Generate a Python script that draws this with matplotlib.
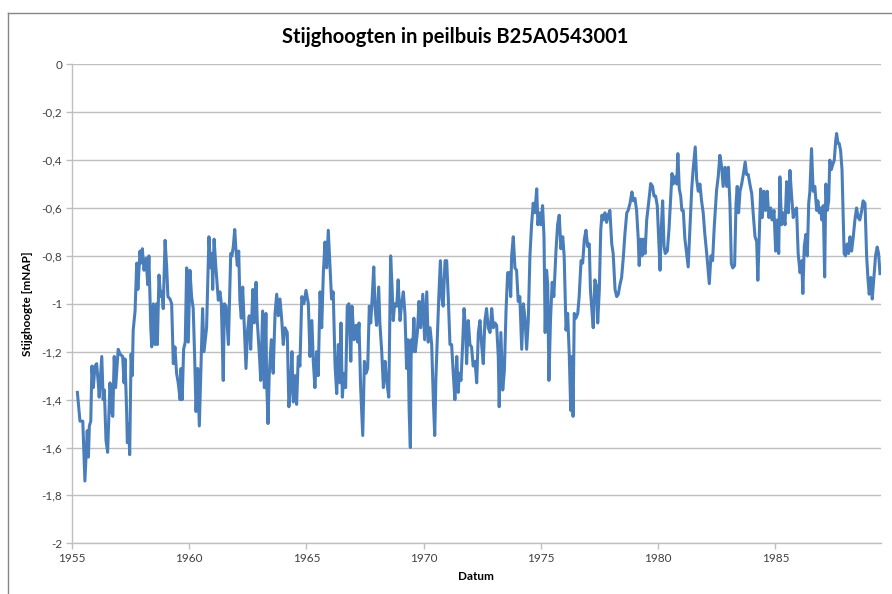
import matplotlib
matplotlib.use("Agg")
import matplotlib.pyplot as plt
from matplotlib.lines import Line2D
from matplotlib.ticker import FixedLocator, FuncFormatter

plt.rcParams['font.family'] = ['Lato', 'DejaVu Sans']

# ---- data: groundwater head (m NAP) vs. decimal year ----
years_a = [1955.23,1955.34,1955.46,1955.55,1955.65,1955.70,1955.74,1955.80,1955.85,1955.91,
           1955.98,1956.05,1956.12,1956.16,1956.27,1956.33,1956.38,1956.45,1956.52,1956.62,
           1956.69,1956.74,1956.80,1956.86,1956.97,1957.05,1957.16,1957.22,1957.26,1957.33,
           1957.36,1957.42,1957.46,1957.52,1957.57,1957.61,1957.69,1957.76,1957.81,1957.90,
           1957.94,1958.00,1958.07,1958.16,1958.23,1958.28,1958.36,1958.40,1958.47,1958.54,
           1958.61,1958.64,1958.71,1958.78,1958.84,1958.89,1958.97,1959.04,1959.09,1959.18,
           1959.25,1959.32,1959.39,1959.46,1959.53,1959.61,1959.65,1959.70,1959.76,1959.83,
           1959.89,1959.96,1960.03,1960.10,1960.17,1960.23,1960.29,1960.36,1960.43,1960.49]
level_a = [-1.37,-1.49,-1.49,-1.74,-1.53,-1.64,-1.51,-1.49,-1.26,-1.35,
           -1.26,-1.25,-1.33,-1.39,-1.22,-1.40,-1.36,-1.57,-1.62,-1.33,
           -1.45,-1.47,-1.22,-1.35,-1.19,-1.21,-1.22,-1.33,-1.23,-1.45,
           -1.58,-1.50,-1.63,-1.21,-1.30,-1.11,-1.03,-0.83,-0.94,-0.78,
           -0.83,-0.77,-0.86,-0.81,-0.92,-0.80,-1.10,-1.18,-1.00,-1.17,
           -1.00,-1.17,-0.88,-0.97,-0.95,-1.02,-0.735,-0.85,-0.97,-0.98,
           -1.00,-1.25,-1.18,-1.29,-1.33,-1.40,-1.27,-1.40,-1.19,-1.16,
           -0.85,-1.16,-0.86,-0.97,-1.02,-1.22,-1.45,-1.27,-1.51,-1.30]

years_b = [1960.57,1960.63,1960.74,1960.84,1960.91,1960.97,1961.00,1961.06,1961.13,1961.24,
           1961.31,1961.37,1961.45,1961.50,1961.57,1961.67,1961.77,1961.82,1961.88,1961.94,
           1961.99,1962.05,1962.11,1962.16,1962.22,1962.28,1962.33,1962.42,1962.49,1962.56,
           1962.62,1962.71,1962.77,1962.85,1962.90,1962.99,1963.05,1963.13,1963.20,1963.27,
           1963.30,1963.36,1963.41,1963.50,1963.58,1963.66,1963.73,1963.80,1963.87,1963.94,
           1964.01,1964.08,1964.18,1964.25,1964.33,1964.38,1964.44,1964.51,1964.58,1964.65,
           1964.72,1964.80,1964.89,1964.98,1965.08,1965.15,1965.23,1965.29,1965.36,1965.43,
           1965.50,1965.58,1965.65,1965.72,1965.79,1965.86,1965.93,1966.00,1966.07,1966.14,
           1966.22,1966.29]
level_b = [-1.02,-1.20,-1.10,-0.72,-0.85,-0.79,-0.94,-0.73,-0.84,-0.985,
           -0.95,-1.00,-1.32,-1.00,-1.01,-1.17,-0.79,-0.80,-0.76,-0.69,
           -0.77,-0.84,-0.78,-0.985,-1.06,-0.93,-1.05,-1.27,-1.11,-1.05,
           -1.19,-0.94,-1.08,-0.91,-1.07,-1.21,-1.32,-1.03,-1.35,-1.04,
           -1.32,-1.50,-1.30,-1.15,-1.29,-1.04,-0.96,-1.05,-0.98,-1.06,
           -1.17,-1.10,-1.12,-1.43,-1.33,-1.20,-1.41,-1.30,-1.42,-1.22,
           -1.26,-0.97,-1.00,-0.944,-1.00,-1.22,-1.07,-1.24,-1.35,-1.20,
           -1.30,-0.95,-1.10,-0.87,-0.742,-0.85,-0.693,-0.84,-0.98,-0.95,
           -1.26,-1.375]

years_c = [1966.36,1966.43,1966.47,1966.53,1966.60,1966.67,1966.74,1966.81,1966.89,1966.94,
           1967.03,1967.11,1967.18,1967.24,1967.31,1967.40,1967.47,1967.54,1967.61,1967.68,
           1967.74,1967.81,1967.87,1967.92,1967.99,1968.08,1968.13,1968.21,1968.28,1968.35,
           1968.42,1968.51,1968.59,1968.65,1968.70,1968.76,1968.85,1968.91,1968.99,1969.06,
           1969.13,1969.20,1969.27,1969.33,1969.38,1969.43,1969.47,1969.53,1969.58,1969.64,
           1969.73,1969.80,1969.87,1969.96,1970.04,1970.13,1970.19,1970.27,1970.34,1970.41,
           1970.47,1970.52,1970.58,1970.64,1970.71,1970.78,1970.83,1970.91,1970.98,1971.05,
           1971.12,1971.19,1971.26,1971.33,1971.41,1971.47]
level_c = [-1.17,-1.33,-1.08,-1.39,-1.29,-1.35,-1.01,-1.00,-1.24,-1.01,
           -1.15,-1.09,-1.16,-1.08,-1.35,-1.55,-1.24,-1.29,-1.27,-1.01,
           -1.08,-0.96,-0.846,-1.01,-1.09,-0.93,-1.08,-1.20,-1.35,-1.24,
           -1.32,-1.39,-0.80,-0.93,-1.07,-1.00,-1.01,-0.90,-1.07,-1.00,
           -0.95,-1.04,-1.27,-1.15,-1.45,-1.60,-1.15,-1.20,-1.06,-1.20,
           -1.12,-0.99,-1.10,-0.96,-1.15,-0.95,-1.16,-1.10,-1.17,-1.40,
           -1.55,-1.31,-1.15,-0.98,-0.82,-0.98,-1.01,-0.82,-0.82,-0.98,
           -1.17,-1.17,-1.29,-1.40,-1.22,-1.37]

years_d = [1971.52,1971.59,1971.66,1971.72,1971.79,1971.83,1971.90,1971.97,1972.04,1972.11,
           1972.19,1972.26,1972.33,1972.40,1972.47,1972.54,1972.61,1972.68,1972.75,1972.83,
           1972.90,1972.97,1973.04,1973.11,1973.18,1973.22,1973.29,1973.37,1973.44,1973.51,
           1973.58,1973.65,1973.71,1973.75,1973.82,1973.89,1973.96,1974.03,1974.10,1974.18,
           1974.25,1974.32,1974.39,1974.46,1974.53,1974.60,1974.67,1974.74,1974.82,1974.87,
           1974.93,1974.99,1975.07,1975.13,1975.18,1975.24,1975.29,1975.34,1975.41,1975.48,
           1975.55,1975.64,1975.71,1975.78,1975.85,1975.93,1975.99,1976.07,1976.14,1976.21,
           1976.27,1976.32,1976.37,1976.42,1976.49,1976.57,1976.63,1976.71,1976.78,1976.85,
           1976.92,1976.99,1977.06]
level_d = [-1.29,-1.32,-1.17,-1.02,-1.11,-1.25,-1.07,-1.17,-1.18,-1.26,
           -1.24,-1.33,-1.12,-1.07,-1.17,-1.25,-1.07,-1.02,-1.10,-1.12,
           -1.02,-1.10,-1.08,-1.09,-1.22,-1.43,-1.12,-1.36,-1.28,-1.03,
           -0.87,-0.87,-0.97,-0.80,-0.72,-0.85,-0.86,-0.99,-0.97,-1.19,
           -1.00,-1.06,-1.19,-1.07,-0.80,-0.67,-0.58,-0.62,-0.52,-0.67,
           -0.62,-0.67,-0.59,-0.72,-1.12,-0.86,-0.92,-1.32,-1.06,-0.91,
           -0.97,-0.78,-0.67,-0.63,-0.77,-0.72,-0.80,-1.11,-1.04,-1.22,
           -1.445,-1.22,-1.47,-1.04,-1.06,-1.04,-0.97,-0.82,-0.83,-0.73,
           -0.693,-0.76,-0.75]

years_e = [1977.11,1977.16,1977.23,1977.30,1977.38,1977.42,1977.49,1977.55,1977.60,1977.66,
           1977.73,1977.80,1977.87,1977.94,1978.02,1978.08,1978.16,1978.23,1978.30,1978.37,
           1978.44,1978.51,1978.58,1978.66,1978.72,1978.80,1978.88,1978.94,1979.01,1979.08,
           1979.15,1979.19,1979.25,1979.31,1979.36,1979.44,1979.51,1979.58,1979.68,1979.76,
           1979.82,1979.89,1979.96,1980.03,1980.08,1980.13,1980.19,1980.25,1980.30,1980.39,
           1980.46,1980.53,1980.59,1980.64,1980.71,1980.79,1980.84,1980.90,1980.96,1981.01,
           1981.07,1981.14,1981.21,1981.28,1981.35,1981.43,1981.49,1981.58,1981.64,1981.71,
           1981.78,1981.85,1981.92,1981.99,1982.07,1982.13,1982.18,1982.25,1982.32,1982.39]
level_e = [-0.94,-1.01,-1.10,-0.90,-0.93,-1.08,-0.94,-0.693,-0.63,-0.65,
           -0.62,-0.66,-0.63,-0.61,-0.75,-0.79,-0.94,-0.97,-0.96,-0.92,
           -0.89,-0.81,-0.71,-0.62,-0.61,-0.58,-0.533,-0.57,-0.56,-0.61,
           -0.73,-0.84,-0.73,-0.80,-0.73,-0.79,-0.65,-0.59,-0.498,-0.51,
           -0.55,-0.55,-0.59,-0.75,-0.86,-0.69,-0.57,-0.76,-0.79,-0.78,
           -0.69,-0.56,-0.456,-0.50,-0.47,-0.50,-0.373,-0.52,-0.55,-0.61,
           -0.61,-0.73,-0.79,-0.846,-0.69,-0.52,-0.44,-0.345,-0.48,-0.53,
           -0.50,-0.57,-0.62,-0.71,-0.79,-0.86,-0.916,-0.80,-0.82,-0.68]

years_f = [1982.49,1982.56,1982.63,1982.71,1982.77,1982.85,1982.92,1982.99,1983.06,1983.12,
           1983.18,1983.26,1983.32,1983.37,1983.43,1983.49,1983.56,1983.63,1983.71,1983.77,
           1983.84,1983.91,1983.99,1984.05,1984.13,1984.20,1984.25,1984.31,1984.37,1984.44,
           1984.51,1984.58,1984.65,1984.72,1984.80,1984.86,1984.94,1985.01,1985.08,1985.14,
           1985.19,1985.26,1985.33,1985.41,1985.48,1985.55,1985.62,1985.69,1985.76,1985.83,
           1985.90,1985.97,1986.05,1986.12,1986.17,1986.23,1986.30,1986.36,1986.42,1986.47,
           1986.54,1986.61,1986.68,1986.76,1986.81,1986.87,1986.93,1986.98,1987.04,1987.10,
           1987.15,1987.21,1987.27,1987.32,1987.38,1987.44,1987.51,1987.57,1987.61,1987.67,
           1987.72,1987.78,1987.84,1987.89,1987.93,1987.99,1988.06,1988.12,1988.18,1988.25,
           1988.32,1988.39,1988.46,1988.53,1988.60,1988.68,1988.74,1988.82,1988.89,1988.95,
           1989.00,1989.07,1989.13,1989.20,1989.27,1989.34,1989.40,1989.46]
level_f = [-0.526,-0.47,-0.38,-0.43,-0.51,-0.43,-0.51,-0.43,-0.58,-0.832,
           -0.85,-0.84,-0.58,-0.51,-0.62,-0.53,-0.50,-0.46,-0.408,-0.46,
           -0.46,-0.50,-0.54,-0.62,-0.72,-0.74,-0.902,-0.72,-0.52,-0.64,
           -0.53,-0.61,-0.53,-0.64,-0.60,-0.65,-0.61,-0.78,-0.65,-0.79,
           -0.47,-0.67,-0.62,-0.67,-0.49,-0.62,-0.443,-0.55,-0.64,-0.61,
           -0.60,-0.79,-0.87,-0.82,-0.957,-0.76,-0.71,-0.80,-0.58,-0.53,
           -0.352,-0.53,-0.51,-0.61,-0.57,-0.62,-0.60,-0.65,-0.59,-0.888,
           -0.50,-0.61,-0.57,-0.40,-0.44,-0.42,-0.40,-0.32,-0.289,-0.33,
           -0.33,-0.36,-0.44,-0.64,-0.79,-0.80,-0.75,-0.79,-0.72,-0.78,
           -0.72,-0.65,-0.60,-0.64,-0.65,-0.61,-0.57,-0.58,-0.80,-0.90,
           -0.96,-0.89,-0.98,-0.89,-0.80,-0.763,-0.79,-0.874]

year_ticks = [1955, 1960, 1965, 1970, 1975, 1980, 1985]
level_ticks = [0, -0.2, -0.4, -0.6, -0.8, -1, -1.2, -1.4, -1.6, -1.8, -2]

title = "Stijghoogten in peilbuis B25A0543001"
xlabel = "Datum"
ylabel = "Stijghoogte [mNAP]"

years = years_a + years_b + years_c + years_d + years_e + years_f
levels = level_a + level_b + level_c + level_d + level_e + level_f

# ---- figure ----
W, H = 892, 594
fig = plt.figure(figsize=(W / 100, H / 100), dpi=100)
fig.patch.set_facecolor('white')

ax = fig.add_axes([72 / W, 1 - 543.3 / H, (880.7 - 72) / W, (543.3 - 64.3) / H])
ax.plot(years, levels, color='#4A7EBB', lw=2.2, solid_joinstyle='round', zorder=3)

ax.set_xlim(1955, 1989.49)
ax.set_ylim(-2, 0)
ax.xaxis.set_major_locator(FixedLocator(year_ticks))
ax.yaxis.set_major_locator(FixedLocator(level_ticks))
ax.xaxis.set_major_formatter(FuncFormatter(lambda v, p: f"{int(round(v))}"))
ax.yaxis.set_major_formatter(FuncFormatter(
    lambda v, p: "0" if abs(v) < 1e-9 else (f"{v:g}".replace('.', ','))))

grid_col = '#BFBFBF'
ax.grid(axis='y', color=grid_col, lw=1.0)
ax.set_axisbelow(True)
for s in ['top', 'right']:
    ax.spines[s].set_visible(False)
for s in ['left', 'bottom']:
    ax.spines[s].set_color(grid_col)
    ax.spines[s].set_linewidth(1.0)
ax.tick_params(axis='both', direction='out', length=4, width=1.0, color=grid_col,
               labelsize=8.5, labelcolor='#404040')
ax.tick_params(axis='x', pad=3)
ax.tick_params(axis='y', pad=3)

ax.set_xlabel(xlabel, fontsize=8.5, fontweight='bold', color='black', labelpad=5)
ax.set_ylabel(ylabel, fontsize=8.5, fontweight='bold', color='black')
ax.yaxis.set_label_coords(-(72 - 33) / (880.7 - 72), 0.5)

fig.text(455.5 / W, 1 - 37 / H, title, ha='center', va='center',
         fontsize=14.5, fontweight='bold', color='black')

# chart-area frame (left and top edges visible in the reference)
frame_col = '#868686'
fig.add_artist(Line2D([7.5 / W, 7.5 / W], [0, 1 - 12.5 / H], transform=fig.transFigure,
                      color=frame_col, lw=1.0))
fig.add_artist(Line2D([7.5 / W, 1.0], [1 - 12.5 / H, 1 - 12.5 / H], transform=fig.transFigure,
                      color=frame_col, lw=1.0))

fig.savefig('out.png', dpi=100, facecolor='white')
